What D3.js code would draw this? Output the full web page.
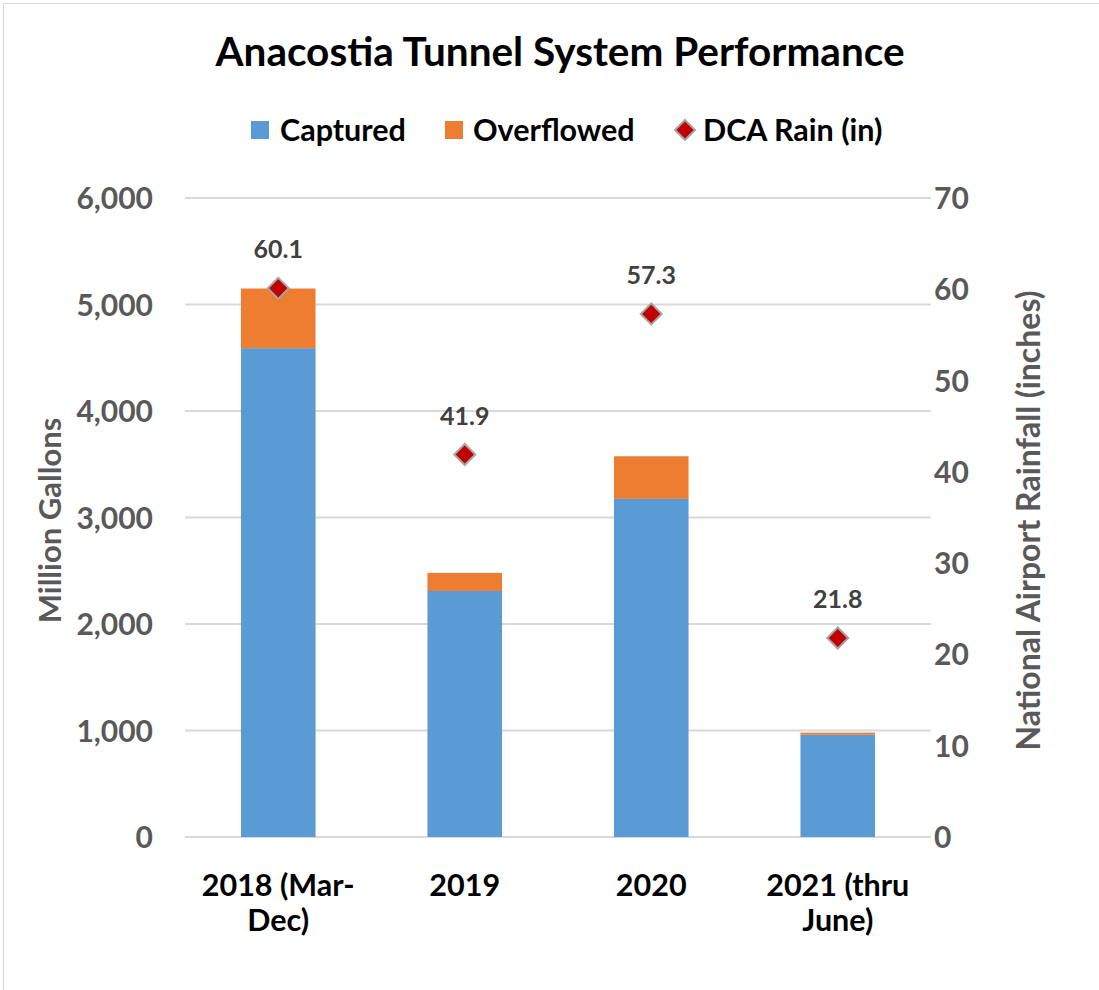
<!DOCTYPE html>
<html><head><meta charset="utf-8">
<script src="https://cdn.jsdelivr.net/npm/d3@7"></script>
<style>
body{margin:0;background:#fff;}
svg text{font-family:Lato,"Open Sans",sans-serif;font-weight:700;}
</style></head>
<body>
<svg id="chart" width="1099" height="990"></svg>
<script>
const categories = [["2018 (Mar-","Dec)"],["2019"],["2020"],["2021 (thru","June)"]];
const captured = [4590, 2310, 3175, 960];
const overflowed = [560, 170, 400, 20];
const rain = [60.1, 41.9, 57.3, 21.8];
const leftTicks = [0,1000,2000,3000,4000,5000,6000];
const rightTicks = [0,10,20,30,40,50,60,70];

const svg = d3.select("#chart");
// outer border
svg.append("rect").attr("x",3.5).attr("y",3.5).attr("width",1200).attr("height",1200)
  .attr("fill","none").attr("stroke","#d9d9d9").attr("stroke-width",1);

const pL = 185, pR = 931, pT = 198, pB = 837;
const x = d3.scaleBand().domain(d3.range(categories.length)).range([pL,pR]).paddingInner(0.6).paddingOuter(0.3);
const y = d3.scaleLinear().domain([0,6000]).range([pB,pT]);
const y2 = d3.scaleLinear().domain([0,70]).range([pB,pT]);

// gridlines
svg.append("g").selectAll("line").data(leftTicks).join("line")
  .attr("x1",pL).attr("x2",pR).attr("y1",d=>y(d)).attr("y2",d=>y(d))
  .attr("stroke","#d9d9d9").attr("stroke-width",2);

// left axis
const ax = d3.axisLeft(y).tickValues(leftTicks).tickFormat(d3.format(",")).tickSize(0).tickPadding(0);
const gL = svg.append("g").attr("transform",`translate(153,0)`).call(ax);
gL.select(".domain").remove();
gL.selectAll("text").attr("fill","#595959").style("font-size","30px").attr("dy","0.35em");

const ax2 = d3.axisRight(y2).tickValues(rightTicks).tickSize(0).tickPadding(0);
const gR = svg.append("g").attr("transform",`translate(934,0)`).call(ax2);
gR.select(".domain").remove();
gR.selectAll("text").attr("fill","#595959").style("font-size","30px").attr("dy","0.35em");

// bars
const bars = svg.append("g");
bars.selectAll("rect.cap").data(captured).join("rect").attr("class","cap")
  .attr("x",(d,i)=>x(i)).attr("width",x.bandwidth())
  .attr("y",d=>y(d)).attr("height",d=>y(0)-y(d)).attr("fill","#5B9BD5");
bars.selectAll("rect.ovf").data(overflowed).join("rect").attr("class","ovf")
  .attr("x",(d,i)=>x(i)).attr("width",x.bandwidth())
  .attr("y",(d,i)=>y(captured[i]+d)).attr("height",(d,i)=>y(captured[i])-y(captured[i]+d)).attr("fill","#ED7D31");

// rain markers
const diamond = d3.symbol().type(d3.symbolSquare).size(220);
svg.append("g").selectAll("path").data(rain).join("path")
  .attr("d",diamond)
  .attr("transform",(d,i)=>`translate(${x(i)+x.bandwidth()/2},${y2(d)}) rotate(45)`)
  .attr("fill","#C00000").attr("stroke","#A5A5A5").attr("stroke-width",2);
svg.append("g").selectAll("text").data(rain).join("text")
  .attr("x",(d,i)=>x(i)+x.bandwidth()/2).attr("y",d=>y2(d)-30)
  .attr("text-anchor","middle").attr("fill","#404040").style("font-size","25px")
  .text(d=>d3.format(".1f")(d));

// x labels
const xl = svg.append("g").selectAll("text").data(categories).join("text")
  .attr("text-anchor","middle").attr("fill","#000").style("font-size","30.5px")
  .attr("x",(d,i)=>x(i)+x.bandwidth()/2).attr("y",896);
xl.selectAll("tspan").data(d=>d).join("tspan")
  .attr("x",function(){return this.parentNode.getAttribute("x");})
  .attr("dy",(d,j)=>j===0?0:35).text(d=>d);

// axis titles
svg.append("text").attr("transform",`translate(61,${(pT+pB)/2 + 3}) rotate(-90)`)
  .attr("text-anchor","middle").attr("fill","#595959").style("font-size","31px").text("Million Gallons");
svg.append("text").attr("transform",`translate(1040,${(pT+pB)/2 + 3}) rotate(-90)`)
  .attr("text-anchor","middle").attr("fill","#595959").style("font-size","32px").text("National Airport Rainfall (inches)");

// title
svg.append("text").attr("x",560).attr("y",66).attr("text-anchor","middle").attr("fill","#000")
  .style("font-size","40.5px").text("Anacostia Tunnel System Performance");

// legend
const lg = svg.append("g");
lg.append("rect").attr("x",251).attr("y",121).attr("width",18).attr("height",18).attr("fill","#5B9BD5");
lg.append("text").attr("x",280).attr("y",141).style("font-size","30.5px").attr("fill","#000").text("Captured");
lg.append("rect").attr("x",445).attr("y",121).attr("width",18).attr("height",18).attr("fill","#ED7D31");
lg.append("text").attr("x",473).attr("y",141).style("font-size","30.5px").attr("fill","#000").text("Overflowed");
lg.append("path").attr("d",d3.symbol().type(d3.symbolSquare).size(200)).attr("transform","translate(685,130) rotate(45)")
  .attr("fill","#C00000").attr("stroke","#A5A5A5").attr("stroke-width",2);
lg.append("text").attr("x",703).attr("y",141).style("font-size","30.5px").attr("fill","#000").text("DCA Rain (in)");
</script>
</body></html>
